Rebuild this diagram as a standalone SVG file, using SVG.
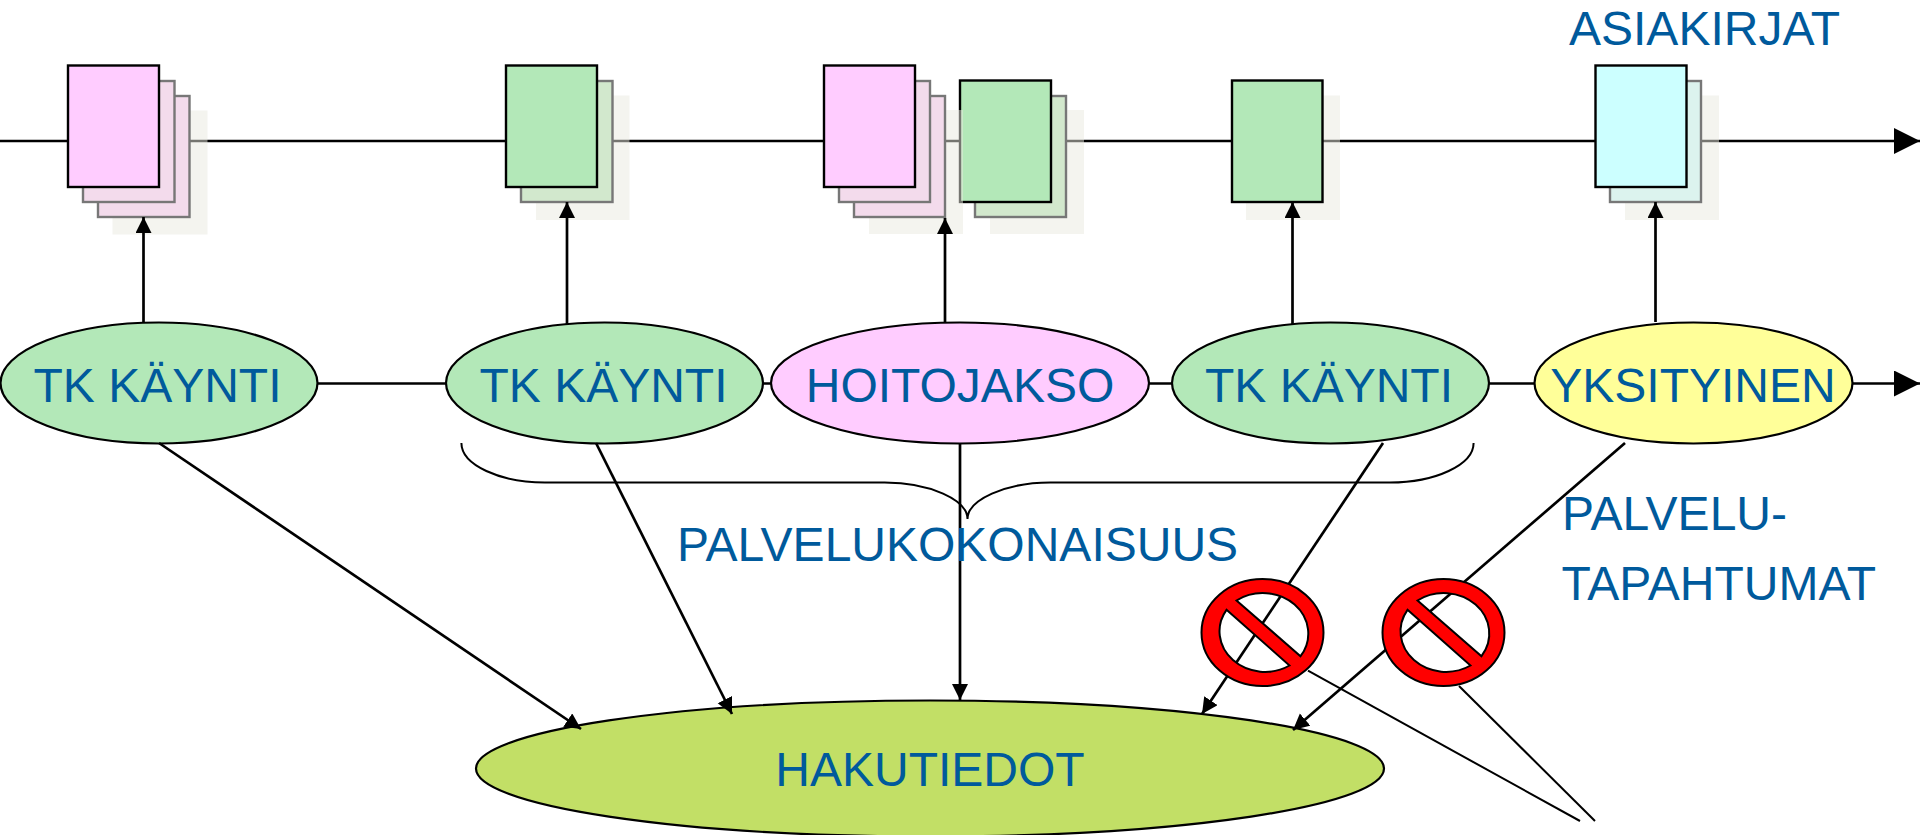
<svg xmlns="http://www.w3.org/2000/svg" width="1920" height="835" viewBox="0 0 1920 835">
<style>
.ln{stroke:#000;stroke-width:2.7;fill:none}
.thin{stroke:#000;stroke-width:2;fill:none}
.a{marker-end:url(#sm)}
.b{marker-end:url(#lg)}
.n{stroke:#000;stroke-width:2.2}
.f{stroke:#000;stroke-width:2.4}
.s{stroke:#777;stroke-width:2.4}
.sh{fill:#eaeae0;opacity:.5}
.g{fill:#b3e8b8}.p{fill:#ffccff}.c{fill:#ccffff}
.g2{fill:#d2e8cd}.p2{fill:#f3dbec}.c2{fill:#dcf3ee}
text{font-family:"Liberation Sans",Arial,sans-serif;font-size:48px;fill:#005a9c}
.m{text-anchor:middle}
.no{fill:#f00;stroke:#000;stroke-width:2;fill-rule:evenodd}
</style>
<defs>
<marker id="sm" markerUnits="userSpaceOnUse" markerWidth="18" markerHeight="18" refX="16" refY="8" orient="auto"><path d="M0,0L16,8L0,16z" fill="#000"/></marker>
<marker id="lg" markerUnits="userSpaceOnUse" markerWidth="28" markerHeight="28" refX="26" refY="13" orient="auto"><path d="M0,0L26,13L0,26z" fill="#000"/></marker>
<path id="nosym" d="M-61,0A61,53.5 0 1 1 61,0A61,53.5 0 1 1 -61,0zM-26,-32L38,23.7A45.5,40.5 0 0 0 -26,-32zM-36,-22.7L27,33A45.5,40.5 0 0 1 -36,-22.7z"/>
</defs>
<g id="connectors">
<line class="ln b" x1="0" y1="141" x2="1920" y2="141"/>
<line class="ln b" x1="317" y1="383.5" x2="1920" y2="383.5"/>
</g>
<g id="doc-green-3">
<rect class="sh" x="990" y="110" width="94" height="124"/>
<rect class="s g2" x="975" y="96" width="91" height="121"/>
<rect class="f g" x="960" y="80.5" width="91" height="121.5"/>
</g>
<g id="doc-pink-1">
<rect class="sh" x="112.5" y="110.5" width="95" height="124"/>
<rect class="s p2" x="98" y="96" width="91.5" height="121"/>
<rect class="s p2" x="83" y="81" width="91.5" height="121"/>
<rect class="f p" x="68" y="65.5" width="91" height="121.5"/>
</g>
<g id="doc-green-2">
<rect class="sh" x="536" y="95.5" width="93.5" height="124.5"/>
<rect class="s g2" x="521" y="81" width="91.5" height="121"/>
<rect class="f g" x="506" y="65.5" width="91" height="121.5"/>
</g>
<g id="doc-pink-3">
<rect class="sh" x="869" y="110" width="94" height="124"/>
<rect class="s p2" x="854" y="96" width="91" height="121"/>
<rect class="s p2" x="839" y="81" width="91" height="121"/>
<rect class="f p" x="824" y="65.5" width="91" height="121.5"/>
</g>
<g id="doc-green-4">
<rect class="sh" x="1246" y="95.5" width="94" height="124.5"/>
<rect class="f g" x="1232" y="80.5" width="90.5" height="121.5"/>
</g>
<g id="doc-cyan">
<rect class="sh" x="1625" y="95.5" width="94" height="124.5"/>
<rect class="s c2" x="1610" y="81" width="91" height="121"/>
<rect class="f c" x="1595.5" y="65.5" width="91" height="121.5"/>
</g>
<text x="1569" y="45">ASIAKIRJAT</text>
<g id="node-tk1"><ellipse class="n g" cx="159" cy="383" rx="158.5" ry="60.5"/><text class="m" x="157.5" y="402">TK KÄYNTI</text></g>
<g id="node-tk2"><ellipse class="n g" cx="604.5" cy="383" rx="158.5" ry="60.5"/><text class="m" x="603.5" y="402">TK KÄYNTI</text></g>
<g id="node-hoito"><ellipse class="n p" cx="960" cy="383" rx="189" ry="60.5"/><text class="m" x="960" y="402">HOITOJAKSO</text></g>
<g id="node-tk3"><ellipse class="n g" cx="1330.5" cy="383" rx="158.5" ry="60.5"/><text class="m" x="1329" y="402">TK KÄYNTI</text></g>
<g id="node-yks"><ellipse class="n" fill="#ffff99" cx="1693.5" cy="383" rx="159" ry="60.5"/><text class="m" x="1693" y="402">YKSITYINEN</text></g>
<g id="node-haku"><ellipse class="n" fill="#c2df66" cx="930" cy="768.5" rx="454" ry="68"/><text class="m" x="930" y="786">HAKUTIEDOT</text></g>
<g id="arrows">
<line class="ln a" x1="143.5" y1="322" x2="143.5" y2="217"/>
<line class="ln a" x1="567" y1="324" x2="567" y2="202"/>
<line class="ln a" x1="945" y1="322" x2="945" y2="218"/>
<line class="ln a" x1="1292.5" y1="324" x2="1292.5" y2="202"/>
<line class="ln a" x1="1655.5" y1="322" x2="1655.5" y2="202"/>
<line class="ln a" x1="159" y1="443" x2="581" y2="729"/>
<line class="ln a" x1="596" y1="443" x2="732" y2="714"/>
<line class="ln a" x1="960" y1="443" x2="960" y2="700"/>
<line class="ln a" x1="1383" y1="443" x2="1202" y2="714"/>
<line class="ln a" x1="1625" y1="443" x2="1293" y2="730"/>
<path class="thin" d="M461.4,443C461.4,465 500,482.5 545,482.5L884.6,482.5C930,482.5 967.5,500 967.5,519C967.5,500 1005,482.5 1050.4,482.5L1390,482.5C1435,482.5 1473.6,465 1473.6,443"/>
<line class="thin" x1="1308" y1="670.7" x2="1580" y2="821"/>
<line class="thin" x1="1459" y1="686" x2="1595" y2="821"/>
</g>
<text x="677" y="561">PALVELUKOKONAISUUS</text>
<text x="1562" y="530">PALVELU-</text>
<text x="1561.5" y="600">TAPAHTUMAT</text>
<g id="no-1"><use class="no" href="#nosym" x="1262.5" y="632.5"/></g>
<g id="no-2"><use class="no" href="#nosym" x="1443.5" y="632.5"/></g>
</svg>
